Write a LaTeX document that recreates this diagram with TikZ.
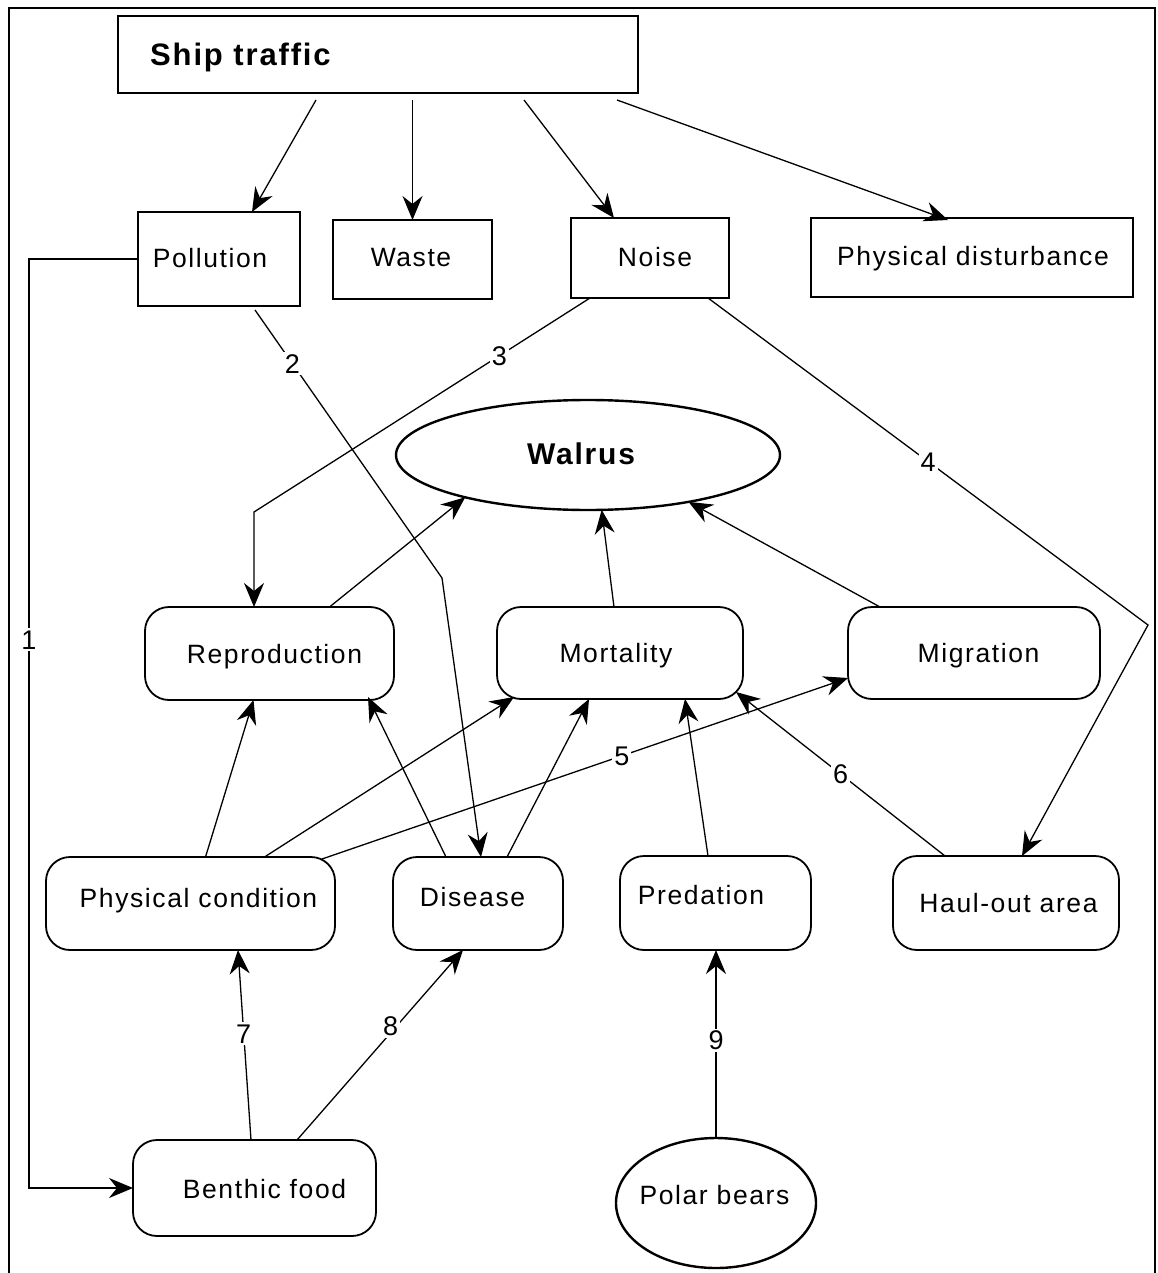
\documentclass[tikz,border=0pt]{standalone}
\usepackage{fontspec}
\setmainfont{Liberation Sans}[LetterSpace=6]
\usetikzlibrary{arrows.meta,shapes.geometric}

\tikzset{
  base/.style={draw=black, inner sep=0pt, outer sep=0pt, text=black},
  sbox/.style={base, rectangle, line width=2pt},
  rbox/.style={base, rectangle, rounded corners=24pt, line width=1.8pt},
  oval/.style={base, ellipse, line width=2.4pt},
  lbl/.style={font=\fontsize{26.5}{30}\selectfont, inner sep=0pt, text height=19pt, text depth=0pt},
  title/.style={font=\fontsize{31}{36}\selectfont\bfseries, inner sep=0pt, text height=22pt, text depth=0pt},
  arr/.style={line width=1.3pt, -{Stealth[length=24pt, width=20pt, inset=8pt]}},
  num/.style={font=\fontsize{27}{30}\selectfont, fill=white, inner sep=2pt, text height=19pt, text depth=0pt},
}

\begin{document}
\begin{tikzpicture}[x=1pt, y=-1pt]
\useasboundingbox (0,0) rectangle (1158,1273);

% frame, open at the bottom
\draw[line width=2pt] (9,1273) -- (9,8) -- (1155,8) -- (1155,1273);

% pressures
\node[sbox, minimum width=520pt, minimum height=77pt,
      label={[title, anchor=west, xshift=32pt]west:Ship traffic}] (ship) at (378,54.5) {};
\node[sbox, minimum width=162pt, minimum height=94pt,
      label={[lbl, xshift=-9pt, yshift=1pt]center:Pollution}] (pollution) at (219,259) {};
\node[sbox, minimum width=159pt, minimum height=79pt,
      label={[lbl, xshift=-1.5pt, yshift=2.5pt]center:Waste}] (waste) at (412.5,259.5) {};
\node[sbox, minimum width=158pt, minimum height=80pt,
      label={[lbl, xshift=5pt, yshift=1pt]center:Noise}] (noise) at (650,258) {};
\node[sbox, minimum width=322pt, minimum height=79pt,
      label={[lbl, xshift=1pt, yshift=1.5pt]center:Physical disturbance}] (physdist) at (972,257.5) {};

% the population
\node[oval, minimum width=384pt, minimum height=110pt,
      label={[title, font=\fontsize{30}{34}\selectfont\bfseries, xshift=-7pt, yshift=2pt]center:Walrus}] (walrus) at (588,455) {};

% responses
\node[rbox, minimum width=249pt, minimum height=93pt,
      label={[lbl, xshift=5pt, yshift=-0.5pt]center:Reproduction}] (repro) at (269.5,653.5) {};
\node[rbox, minimum width=246pt, minimum height=92pt,
      label={[lbl, xshift=-4pt]center:Mortality}] (mort) at (620,653) {};
\node[rbox, minimum width=252pt, minimum height=92pt,
      label={[lbl, xshift=4.5pt]center:Migration}] (migr) at (974,653) {};

% factors
\node[rbox, minimum width=289pt, minimum height=93pt,
      label={[lbl, xshift=8pt, yshift=5.5pt]center:Physical condition}] (physcond) at (190.5,903.5) {};
\node[rbox, minimum width=170pt, minimum height=93pt,
      label={[lbl, xshift=-5.5pt, yshift=6.5pt]center:Disease}] (disease) at (478,903.5) {};
\node[rbox, minimum width=191pt, minimum height=94pt,
      label={[lbl, xshift=-14.5pt, yshift=8pt]center:Predation}] (predation) at (715.5,903) {};
\node[rbox, minimum width=226pt, minimum height=94pt,
      label={[lbl, xshift=2.5pt]center:Haul-out area}] (haulout) at (1006,903) {};

% sources
\node[rbox, minimum width=243pt, minimum height=96pt,
      label={[lbl, xshift=10pt, yshift=-1pt]center:Benthic food}] (benthic) at (254.5,1188) {};
\node[oval, minimum width=200pt, minimum height=130pt,
      label={[lbl, xshift=-1.5pt, yshift=8pt]center:Polar bears}] (polar) at (716,1203) {};

% ship traffic and its effects
\draw[arr] ([xshift=-62pt, yshift=-7pt]ship.south) -- ([xshift=33pt]pollution.north);
\draw[arr] ([xshift=34.5pt, yshift=-7pt]ship.south) -- (waste.north);
\draw[arr] ([xshift=146pt, yshift=-7pt]ship.south) -- ([xshift=-36pt]noise.north);
\draw[arr] ([xshift=239pt, yshift=-7pt]ship.south) -- ([xshift=-24pt, yshift=-2pt]physdist.north);

% numbered pathways
\draw[arr] (pollution.west) -- (29,259) -- node[num, pos=0.41] {1} (29,1188) -- (benthic.west);
\draw[arr] ([xshift=36pt, yshift=-4pt]pollution.south) -- node[num, pos=0.2] {2} (442,578)
           -- ([xshift=3pt]disease.north);
\draw[arr] ([xshift=-60pt]noise.south) -- node[num, pos=0.27] {3} (254,512)
           -- ([xshift=-15.5pt]repro.north);
\draw[arr] ([xshift=58pt]noise.south) -- node[num, pos=0.5] {4} (1148,625)
           -- ([xshift=16pt]haulout.north);

% responses of the population
\draw[arr] ([xshift=60pt]repro.north) -- (walrus.199);
\draw[arr] ([xshift=-6pt]mort.north) -- (walrus.284);
\draw[arr] ([xshift=-94pt]migr.north) -- (walrus.335);

% factors acting on the responses
\draw[arr] ([xshift=15pt]physcond.north) -- ([xshift=-16pt]repro.south);
\draw[arr] ([xshift=74pt]physcond.north) -- ([xshift=-106pt, yshift=2pt]mort.south);
\draw[arr] ([xshift=131.5pt, yshift=-2pt]physcond.north) -- node[num, pos=0.57] {5}
           ([yshift=-25pt]migr.west);
\draw[arr] ([xshift=-32pt]disease.north) -- ([xshift=98.5pt, yshift=3pt]repro.south);
\draw[arr] ([xshift=29pt]disease.north) -- ([xshift=-31pt]mort.south);
\draw[arr] ([xshift=-7.5pt]predation.north) -- ([xshift=65pt]mort.south);
\draw[arr] ([xshift=-61pt]haulout.north) -- node[num, pos=0.5] {6}
           ([xshift=-7pt, yshift=7pt]mort.south east);

% sources acting on the factors
\draw[arr] ([xshift=-3.5pt]benthic.north) -- node[num, pos=0.56] {7} ([xshift=47.5pt]physcond.south);
\draw[arr] ([xshift=42.5pt]benthic.north) -- node[num, pos=0.6, xshift=-6pt] {8} ([xshift=-15pt]disease.south);
\draw[arr] (polar.north) -- node[num, pos=0.52] {9} (predation.south -| polar.north);
\end{tikzpicture}
\end{document}
